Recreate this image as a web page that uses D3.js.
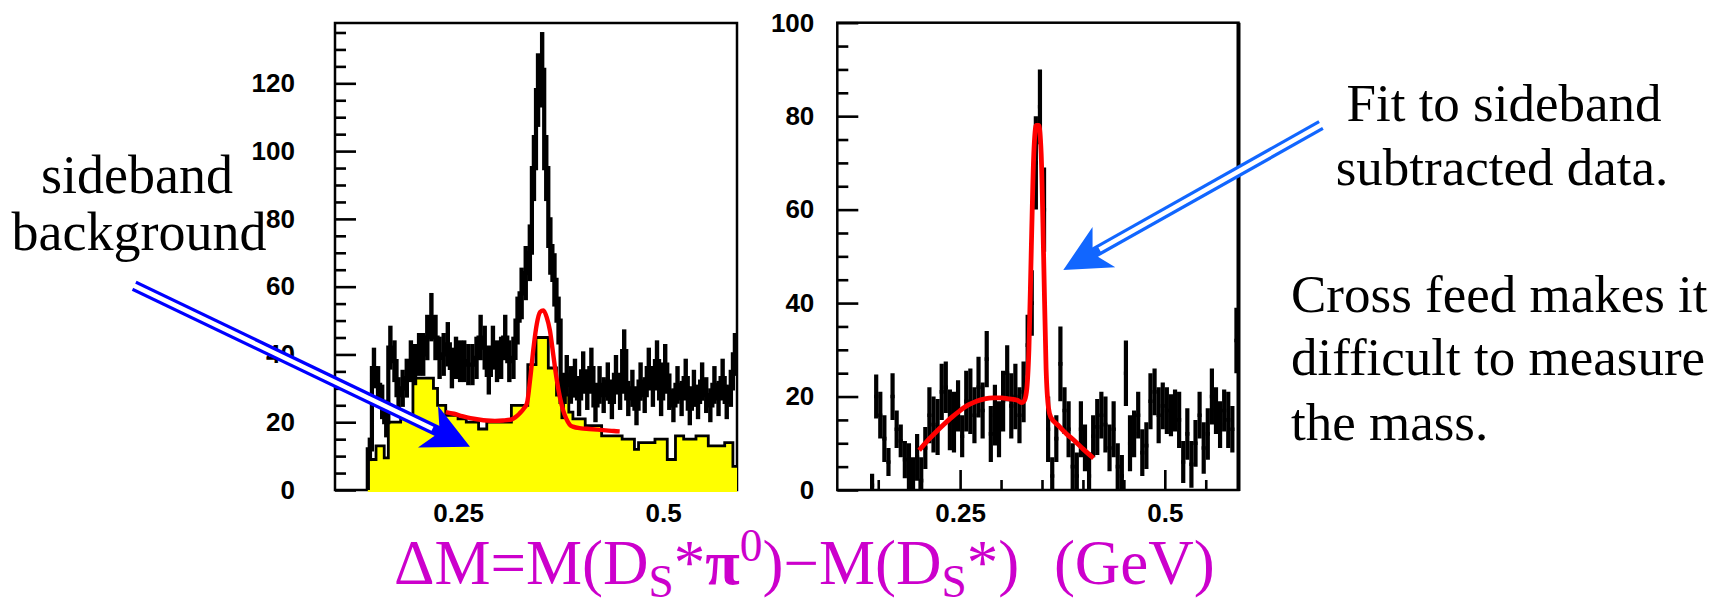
<!DOCTYPE html>
<html>
<head>
<meta charset="utf-8">
<script src="https://cdn.jsdelivr.net/npm/d3@7"></script>
<style>
html,body{margin:0;padding:0;background:#fff;}
svg{display:block;}
</style>
</head>
<body>
<svg id="chart" width="1729" height="598"></svg>
<script>
// ---------------- DATA ----------------
const binStart = 0.14, binWidth = 0.005;           // histogram bins (GeV)
// left panel: all candidates (black, with errors)
const leftTotal = [12,36,31,26,20,42,38,28,30,33,38,37,40,40,45,51,45,39,40,43,36,39,38,38,37,37,39,45,42,34,42,38,39,45,38,39,50,58,64,70,95,118,124,95,72,62,50,
  26,34,31,33,27,35,29,36,25,31,28,32,26,34,29,41,27,30,24,32,28,36,30,38,27,37,29,25,31,27,33,24,30,26,32,28,25,31,27,33,26,30,40];
// left panel: sideband background (yellow)
const leftSideband = [9,9,13,13,9.5,20,20,20,21,21,
  21,33,33,33,33,33,30,25,25,22,
  22,22,21,21,20,20,20,18,18,20,
  20,20,20,20,20,25,25,25,25,37,
  37,45,45,45,36,36,28,28,28,23,
  21,21,21,19,19,19,19,16,16,16,
  16,16,15,15,15,12,14,14,14,14,
  15,15,15,9,9,16,16,15,15,15,
  16,16,16,13,13,13,13,14,14,7];
// left panel fit (red)
const leftFitX = [0.235,0.245,0.255,0.265,0.275,0.285,0.295,0.305,0.315,0.32,0.325,0.33,0.334,0.338,0.342,0.346,0.35,0.354,0.358,0.362,0.366,0.37,0.374,0.378,0.382,0.386,0.39,0.40,0.41,0.42,0.43,0.44,0.447];
const leftFitY = [23,22.5,21.8,21.2,20.8,20.5,20.4,20.5,20.8,21.5,22.6,24,25.6,33,42,49,52.5,53,51,47,40,33,27.5,23.6,21,19.3,18.7,18.2,18,17.8,17.6,17.4,17.3];
// right panel: sideband-subtracted data points
const rightValues = [1,20,16,11,6,20,13,10.5,6.5,5,
  3,7,2,9,16,14,13.5,21,22,15,
  14.5,18,11.5,19,19,16,22,17,28,12,
  16,13,19,25,18,20,16,21,31,40,
  70,82,60,13,3,11,27,17,13,5,
  3,13,9,3,11.5,13.5,16,14,9,13,
  5,3,25,10,12,16,8,9.5,19,21,
  16,18,17,16,17,15,6,12,5.5,10,
  16,9,12,20,17,14,17,15,13,32];
const rightErrors = [2.5,4.7,5,5,3,5,4,3.5,4,5,
  4,5,5,4.5,6,6,6,6,5.5,6.5,
  6.5,5.5,4.5,6.5,7,6,6.5,6,6,6,
  6.5,6,6.5,6,7,7,6,6.5,6.5,7,
  10,8,9,7,4,5,8,5,6,5,
  5,6,5,5,4.5,6,5,6,5,6,
  5,4.5,7,6,5,5,5,5,6,5,
  6,5,5,4.5,4.5,6,4.5,5.5,5,5,
  5,5.5,5.5,6,5,5,4.5,6,5,7];
// right panel fit (red)
const rightFitX = [0.20,0.21,0.22,0.23,0.24,0.25,0.26,0.27,0.28,0.29,0.30,0.31,0.32,0.325,0.328,0.331,0.334,0.337,0.340,0.343,0.346,0.349,0.352,0.355,0.358,0.361,0.37,0.38,0.39,0.40,0.413];
const rightFitY = [8.5,10.5,12.3,14,15.6,17,18.2,19,19.5,19.7,19.7,19.5,19.2,18.7,19,21,30,52,72,78,78,72,50,26,17.5,15.5,13.8,12,10.5,8.8,6.8];
// ticks
const xMajorTicks = [0.25, 0.5];
const xTickLabels = ["0.25", "0.5"];
const xMinorTicks = [0.15,0.2,0.3,0.35,0.4,0.45,0.55];
const leftYMajor = [0,20,40,60,80,100,120];
const rightYMajor = [0,20,40,60,80,100];
const xDomain = [0.1, 0.59];
const leftYMax = 137.8, rightYMax = 100;

// ---------------- LAYOUT ----------------
const svg = d3.select("#chart");
const tickFont = "'Liberation Sans', Arial, sans-serif";
const serif = "'Liberation Serif', 'Times New Roman', serif";

const panels = [
  {id:"L", x0:335, x1:737, y0:23, y1:490, ymax:leftYMax, yMajor:leftYMajor, labPad:40},
  {id:"R", x0:837.3, x1:1238.5, y0:22.7, y1:490, ymax:rightYMax, yMajor:rightYMajor, labPad:23}
];
panels.forEach(p => {
  p.x = d3.scaleLinear().domain(xDomain).range([p.x0, p.x1]);
  p.y = d3.scaleLinear().domain([0, p.ymax]).range([p.y1, p.y0]);
  p.g = svg.append("g");
  svg.append("clipPath").attr("id","clip"+p.id).append("rect")
    .attr("x",p.x0).attr("y",p.y0).attr("width",p.x1-p.x0+2).attr("height",p.y1-p.y0+2);
});

function drawAxes(p){
  const g = p.g;
  g.append("rect").attr("x",p.x0).attr("y",p.y0).attr("width",p.x1-p.x0).attr("height",p.y1-p.y0)
    .attr("fill","none").attr("stroke","#000").attr("stroke-width",2.5);
  const minorY = d3.range(5, p.ymax, 5).filter(v => v % 20 !== 0);
  const yMinor = d3.axisLeft(p.y).tickValues(minorY).tickSize(-11).tickSizeOuter(0).tickFormat("");
  const yMajor = d3.axisLeft(p.y).tickValues(p.yMajor).tickSize(-21).tickSizeOuter(0).tickPadding(p.labPad).tickFormat(d3.format("d"));
  const xMinor = d3.axisBottom(p.x).tickValues(xMinorTicks).tickSize(-10).tickSizeOuter(0).tickFormat("");
  const xMajor = d3.axisBottom(p.x).tickValues(xMajorTicks).tickSize(-20).tickSizeOuter(0).tickPadding(14)
      .tickFormat((d,i) => xTickLabels[i]);
  [[yMinor,"y"],[yMajor,"y"],[xMinor,"x"],[xMajor,"x"]].forEach(([ax,t]) => {
    const a = g.append("g").attr("transform", t==="y" ? `translate(${p.x0},0)` : `translate(0,${p.y1})`).call(ax);
    a.select(".domain").remove();
    a.selectAll("line").attr("stroke","#000").attr("stroke-width",2.6);
    a.selectAll("text").attr("font-family",tickFont).attr("font-weight","bold").attr("font-size",26).attr("fill","#000");
  });
}
panels.forEach(drawAxes);

const n = leftTotal.length;
const edges = d3.range(n + 1).map(i => binStart + i * binWidth);

// ---------- LEFT PANEL ----------
const L = panels[0];
const lg = L.g.append("g").attr("clip-path","url(#clipL)");
const sbPts = leftSideband.map((v,i) => [edges[i], v]).concat([[edges[n], leftSideband[n-1]]]);
lg.append("path").datum(sbPts)
  .attr("d", d3.area().curve(d3.curveStepAfter).x(d => L.x(d[0])).y0(L.y(0)+2).y1(d => L.y(d[1])))
  .attr("fill","#ffff00").attr("stroke","none");
lg.append("path").datum([[edges[0],0]].concat(sbPts))
  .attr("d", d3.line().curve(d3.curveStepAfter).x(d => L.x(d[0])).y(d => L.y(d[1])))
  .attr("fill","none").attr("stroke","#000").attr("stroke-width",2.8);
const totPts = [[edges[0],0]].concat(leftTotal.map((v,i) => [edges[i], v])).concat([[edges[n], leftTotal[n-1]]]);
lg.append("path").datum(totPts)
  .attr("d", d3.line().curve(d3.curveStepAfter).x(d => L.x(d[0])).y(d => L.y(d[1])))
  .attr("fill","none").attr("stroke","#000").attr("stroke-width",4.2);
lg.selectAll("line.err").data(leftTotal).enter().append("line")
  .attr("x1",(d,i) => L.x(edges[i] + binWidth/2)).attr("x2",(d,i) => L.x(edges[i] + binWidth/2))
  .attr("y1",d => L.y(d + Math.sqrt(d))).attr("y2",d => L.y(Math.max(0, d - Math.sqrt(d))))
  .attr("stroke","#000").attr("stroke-width",4.4);
lg.append("path").datum(leftFitX.map((x,i) => [x, leftFitY[i]]))
  .attr("d", d3.line().curve(d3.curveMonotoneX).x(d => L.x(d[0])).y(d => L.y(d[1])))
  .attr("fill","none").attr("stroke","#ff0000").attr("stroke-width",4.4).attr("stroke-linejoin","round");

// ---------- RIGHT PANEL ----------
const R = panels[1];
const rg = R.g.append("g").attr("clip-path","url(#clipR)");
rg.selectAll("line.ev").data(rightValues).enter().append("line")
  .attr("x1",(d,i) => R.x(edges[i] + binWidth/2)).attr("x2",(d,i) => R.x(edges[i] + binWidth/2))
  .attr("y1",(d,i) => R.y(d + rightErrors[i])).attr("y2",(d,i) => R.y(Math.max(0, d - rightErrors[i])))
  .attr("stroke","#000").attr("stroke-width",4.2);
rg.selectAll("line.eh").data(rightValues).enter().append("line")
  .attr("x1",(d,i) => R.x(edges[i])).attr("x2",(d,i) => R.x(edges[i+1]))
  .attr("y1",d => R.y(d)).attr("y2",d => R.y(d))
  .attr("stroke","#000").attr("stroke-width",3.6);
rg.append("path").datum(rightFitX.map((x,i) => [x, rightFitY[i]]))
  .attr("d", d3.line().curve(d3.curveMonotoneX).x(d => R.x(d[0])).y(d => R.y(d[1])))
  .attr("fill","none").attr("stroke","#ff0000").attr("stroke-width",4.8).attr("stroke-linejoin","round");
R.g.append("line").attr("x1",R.x1).attr("x2",R.x1).attr("y1",R.y0).attr("y2",R.y1+1)
  .attr("stroke","#000").attr("stroke-width",4);

// ---------------- ANNOTATIONS ----------------
function arrow(start, tip, color){
  const dx = tip[0]-start[0], dy = tip[1]-start[1], len = Math.hypot(dx,dy);
  const u = [dx/len, dy/len], nn = [-u[1], u[0]];
  const HL = 46.6, HW = 23.2, notch = 13;
  const back = [tip[0]-HL*u[0], tip[1]-HL*u[1]];
  const c1 = [back[0]+HW*nn[0], back[1]+HW*nn[1]];
  const c2 = [back[0]-HW*nn[0], back[1]-HW*nn[1]];
  const nt = [tip[0]-(HL-notch)*u[0], tip[1]-(HL-notch)*u[1]];
  const se = [tip[0]-(HL-notch-6)*u[0], tip[1]-(HL-notch-6)*u[1]];
  const g = svg.append("g");
  g.append("line").attr("x1",start[0]).attr("y1",start[1]).attr("x2",se[0]).attr("y2",se[1])
    .attr("stroke",color).attr("stroke-width",11);
  g.append("line").attr("x1",start[0]-u[0]*2).attr("y1",start[1]-u[1]*2).attr("x2",nt[0]-u[0]*8).attr("y2",nt[1]-u[1]*8)
    .attr("stroke","#fff").attr("stroke-width",4.6);
  g.append("path").attr("d", d3.line()([tip, c1, nt, c2]) + "Z").attr("fill",color);
}
arrow([134.2,285.8],[470,446.7],"#0000ff");
arrow([1321,125],[1063.3,270],"#1166ff");

function label(lines){
  lines.forEach(l => {
    svg.append("text").attr("x",l.x).attr("y",l.y).attr("text-anchor",l.anchor)
      .attr("font-family",serif).attr("font-size",l.fs || 53).attr("fill","#000").text(l.t);
  });
}
label([
  {t:"sideband", x:137, y:193, anchor:"middle", fs:54},
  {t:"background", x:139, y:250, anchor:"middle", fs:54},
  {t:"Fit to sideband", x:1504, y:121, anchor:"middle"},
  {t:"subtracted data.", x:1502, y:185, anchor:"middle"},
  {t:"Cross feed makes it", x:1291, y:312, anchor:"start"},
  {t:"difficult to measure", x:1291, y:375, anchor:"start"},
  {t:"the mass.", x:1291, y:440, anchor:"start"}
]);

// x-axis title
const fs = 63, sub = 13, sup = 23;
const title = svg.append("text").attr("x",394).attr("y",584)
  .attr("font-family",serif).attr("font-size",fs).attr("fill","#cc00cc");
title.append("tspan").text("\u0394M=M(D");
title.append("tspan").attr("dy",sub).attr("font-size",fs*0.72).text("S");
title.append("tspan").attr("dy",-sub).text("*");
title.append("tspan").attr("font-weight","bold").text("\u03c0");
title.append("tspan").attr("dy",-sup).attr("font-size",fs*0.72).text("0");
title.append("tspan").attr("dy",sup).text(")\u2212M(D");
title.append("tspan").attr("dy",sub).attr("font-size",fs*0.72).text("S");
title.append("tspan").attr("dy",-sub).text("*)");
title.append("tspan").attr("dx",fs*0.3).text(" (GeV)");
</script>
</body>
</html>
